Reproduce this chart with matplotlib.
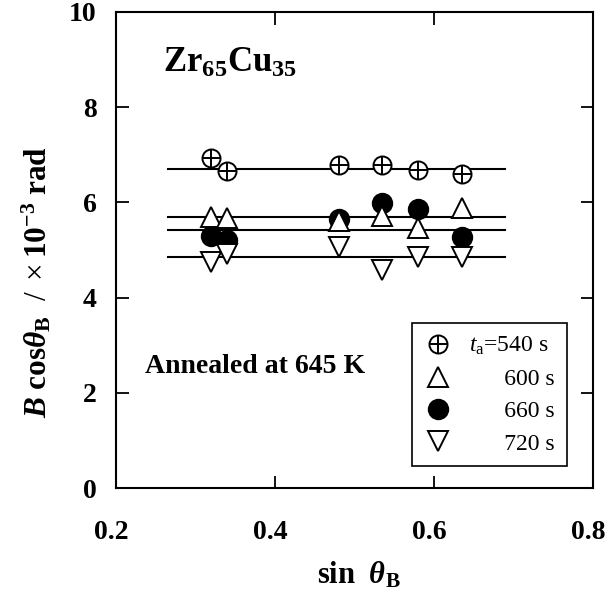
import numpy as np
import matplotlib
matplotlib.use('Agg')
import matplotlib.pyplot as plt
import matplotlib.transforms as mtransforms
from matplotlib.legend_handler import HandlerTuple

plt.rcParams['font.family'] = ['Liberation Serif', 'DejaVu Serif']
plt.rcParams['mathtext.fontset'] = 'custom'
plt.rcParams['mathtext.rm'] = 'Liberation Serif'
plt.rcParams['mathtext.it'] = 'Liberation Serif:italic'
plt.rcParams['mathtext.bf'] = 'Liberation Serif:bold'
plt.rcParams['mathtext.bfit'] = 'Liberation Serif:italic:bold'

# sin(theta_B) of the reflections
sin_theta = [0.32, 0.34, 0.48, 0.535, 0.58, 0.635]

# B cos(theta_B) / 1e-3 rad for each annealing time
b540 = [6.93, 6.65, 6.79, 6.79, 6.68, 6.60]
b600 = [5.70, 5.67, 5.60, 5.71, 5.46, 5.88]
b660 = [5.29, 5.21, 5.65, 5.99, 5.86, 5.27]
b720 = [4.75, 4.91, 5.06, 4.58, 4.86, 4.86]

# horizontal fit lines
fit_x = [0.265, 0.69]
fit_levels = [6.71, 5.70, 5.43, 4.86]

fig = plt.figure(figsize=(6.08, 5.94), dpi=100)
ax = fig.add_axes([0.191, 0.178, 0.784, 0.802])

for lev in fit_levels:
    ax.plot(fit_x, [lev, lev], color='k', lw=1.5, zorder=1)

ms = 14
ew = 1.4
ax.plot(sin_theta, b660, 'o', ms=ms, mfc='k', mec='k', mew=ew, ls='none', zorder=2)
ax.plot(sin_theta, b600, '^', ms=ms, mfc='white', mec='k', mew=ew, ls='none', zorder=3)
ax.plot(sin_theta, b720, 'v', ms=ms, mfc='white', mec='k', mew=ew, ls='none', zorder=4)
ax.plot(sin_theta, b540, 'o', ms=13, mfc='white', mec='k', mew=ew, ls='none', zorder=5)
ax.plot(sin_theta, b540, '+', ms=13, mec='k', mew=ew, ls='none', zorder=6)

h_circ = ax.plot([], [], 'o', ms=13, mfc='white', mec='k', mew=ew, ls='none')[0]
h_plus = ax.plot([], [], '+', ms=13, mec='k', mew=ew, ls='none')[0]
h_up = ax.plot([], [], '^', ms=ms, mfc='white', mec='k', mew=ew, ls='none')[0]
h_fill = ax.plot([], [], 'o', ms=ms, mfc='k', mec='k', mew=ew, ls='none')[0]
h_dn = ax.plot([], [], 'v', ms=ms, mfc='white', mec='k', mew=ew, ls='none')[0]

labels = [r'$\mathit{t}_{\mathregular{a}}$=540 s', '      600 s', '      660 s', '      720 s']
leg = ax.legend([(h_circ, h_plus), h_up, h_fill, h_dn], labels,
                handler_map={tuple: HandlerTuple(ndivide=1, pad=0)},
                loc='lower right', bbox_to_anchor=(0.945, 0.046),
                prop={'family': 'Liberation Serif', 'size': 17},
                frameon=True, fancybox=False, edgecolor='k', framealpha=1,
                handlelength=1.2, handletextpad=0.7, labelspacing=0.46,
                borderpad=0.5, borderaxespad=0)
leg.get_frame().set_linewidth(1.2)

ax.set_xlim(0.2, 0.8)
ax.set_ylim(0, 10)
ax.set_xticks([0.2, 0.4, 0.6, 0.8])
ax.set_yticks([0, 2, 4, 6, 8, 10])
ax.set_xticklabels(['0.2', '0.4', '0.6', '0.8'])
ax.set_yticklabels(['0', '2', '4', '6', '8', '10'])
ax.tick_params(direction='in', top=True, right=True, length=9, width=1.3)
ax.tick_params(axis='x', pad=23)
ax.tick_params(axis='y', pad=14)
for lab in ax.get_xticklabels() + ax.get_yticklabels():
    lab.set_fontweight('bold')
    lab.set_fontsize(20)

# x tick labels sit a little left of their ticks in the original
shift = mtransforms.ScaledTranslation(-5 / 100, 0, fig.dpi_scale_trans)
for lab in ax.get_xticklabels():
    lab.set_transform(lab.get_transform() + shift)

for sp in ax.spines.values():
    sp.set_linewidth(1.5)

ax.set_xlabel(r'$\mathbf{sin}\ \ \mathbfit{\theta}_{\mathbf{B}}$', fontsize=22)
ax.set_ylabel(r'$\mathbfit{B}\ \mathbf{cos}\mathbfit{\theta}_{\mathbf{B}}\ \ /\ \times\mathbf{10^{-3}\ rad}$', fontsize=22.5)
ax.xaxis.set_label_coords(0.51, -0.151)
ax.yaxis.set_label_coords(-0.132, 0.433)

ax.text(0.099, 0.874, r'$\mathbf{Zr_{65}Cu_{35}}$', transform=ax.transAxes, fontsize=25, va='baseline')
ax.text(0.061, 0.242, 'Annealed at 645 K', transform=ax.transAxes, fontsize=20, fontweight='bold', va='baseline')

fig.savefig('out.png', dpi=100)
